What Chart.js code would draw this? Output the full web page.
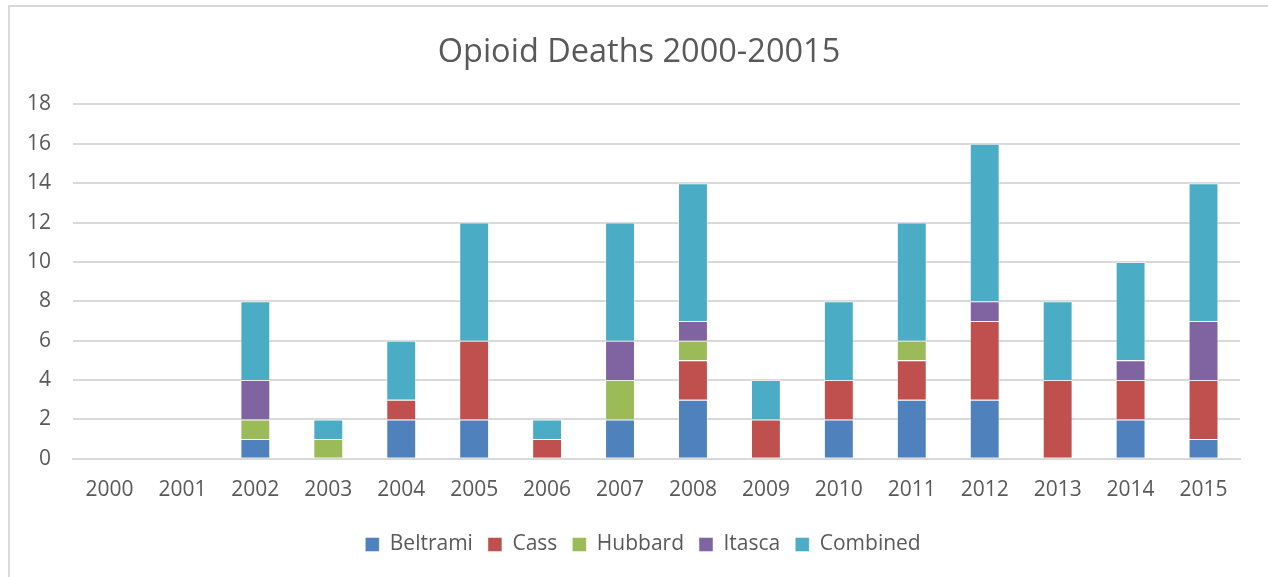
<!DOCTYPE html>
<html>
<head>
<meta charset="utf-8">
<script src="https://cdn.jsdelivr.net/npm/chart.js@4"></script>
<style>
  html, body { margin: 0; padding: 0; background: #fff; overflow: hidden; }
  #frame {
    position: absolute; left: 8px; top: 5px;
    width: 1300px; height: 620px;
    border: 2px solid #d9d9d9; box-sizing: border-box;
  }
  #wrap { position: absolute; left: 0; top: 0; width: 1268px; height: 577px; }
</style>
</head>
<body>
<div id="frame"></div>
<div id="wrap"><canvas id="deathsChart"></canvas></div>
<script>
const years = ["2000", "2001", "2002", "2003", "2004", "2005", "2006", "2007",
               "2008", "2009", "2010", "2011", "2012", "2013", "2014", "2015"];
const beltrami = [0, 0, 1, 0, 2, 2, 0, 2, 3, 0, 2, 3, 3, 0, 2, 1];
const cass     = [0, 0, 0, 0, 1, 4, 1, 0, 2, 2, 2, 2, 4, 4, 2, 3];
const hubbard  = [0, 0, 1, 1, 0, 0, 0, 2, 1, 0, 0, 1, 0, 0, 0, 0];
const itasca   = [0, 0, 2, 0, 0, 0, 0, 2, 1, 0, 0, 0, 1, 0, 1, 3];
const combined = [0, 0, 4, 1, 3, 6, 1, 6, 7, 2, 4, 6, 8, 4, 5, 7];

const yTicks = [0, 2, 4, 6, 8, 10, 12, 14, 16, 18];

const textColor = "#595959";
const gridColor = "#d9d9d9";
const fontFamily = "'Open Sans', 'Noto Sans', sans-serif";

function series(label, data, color) {
  return {
    label: label,
    data: data,
    backgroundColor: color,
    borderColor: "rgba(255,255,255,0.45)",
    borderWidth: 1,
    barPercentage: 0.41,
    categoryPercentage: 1.0
  };
}

function moveBox(box, dx, dy) {
  box.left += dx;
  box.right += dx;
  box.top += dy;
  box.bottom += dy;
}

// centre title and legend on the whole frame instead of the padded chart box
const boxShift = {
  id: "boxShift",
  afterLayout: function (chart) {
    moveBox(chart.legend, 23, -3);
    moveBox(chart.titleBlock, 19, 0);
  }
};

document.addEventListener("DOMContentLoaded", function () {
  const ctx = document.getElementById("deathsChart").getContext("2d");

  new Chart(ctx, {
    type: "bar",
    data: {
      labels: years,
      datasets: [
        series("Beltrami", beltrami, "#4F81BD"),
        series("Cass", cass, "#C0504D"),
        series("Hubbard", hubbard, "#9BBB59"),
        series("Itasca", itasca, "#8064A2"),
        series("Combined", combined, "#4BACC6")
      ]
    },
    plugins: [boxShift],
    options: {
      responsive: true,
      maintainAspectRatio: false,
      animation: false,
      layout: { padding: { left: 0, right: 28, top: 0, bottom: 9 } },
      plugins: {
        title: {
          display: true,
          text: "Opioid Deaths 2000-20015",
          color: textColor,
          font: { family: fontFamily, size: 32.5, weight: "normal" },
          padding: { top: 33, bottom: 32.4 }
        },
        legend: {
          position: "bottom",
          labels: {
            color: textColor,
            font: { family: fontFamily, size: 21 },
            boxWidth: 14,
            boxHeight: 14,
            padding: 15
          }
        },
        tooltip: { enabled: false }
      },
      scales: {
        x: {
          stacked: true,
          grid: { display: false, drawTicks: false },
          border: { color: gridColor, width: 2 },
          ticks: {
            color: textColor,
            font: { family: fontFamily, size: 21 },
            padding: 19,
            maxRotation: 0
          }
        },
        y: {
          stacked: true,
          min: 0,
          max: 18,
          afterBuildTicks: function (scale) {
            scale.ticks = yTicks.map(v => ({ value: v }));
          },
          afterFit: function (scale) {
            scale.width = 73;
          },
          grid: { color: gridColor, lineWidth: 2, drawTicks: false },
          border: { display: false },
          ticks: {
            color: textColor,
            font: { family: fontFamily, size: 21 },
            padding: 22
          }
        }
      }
    }
  });
});
</script>
</body>
</html>
